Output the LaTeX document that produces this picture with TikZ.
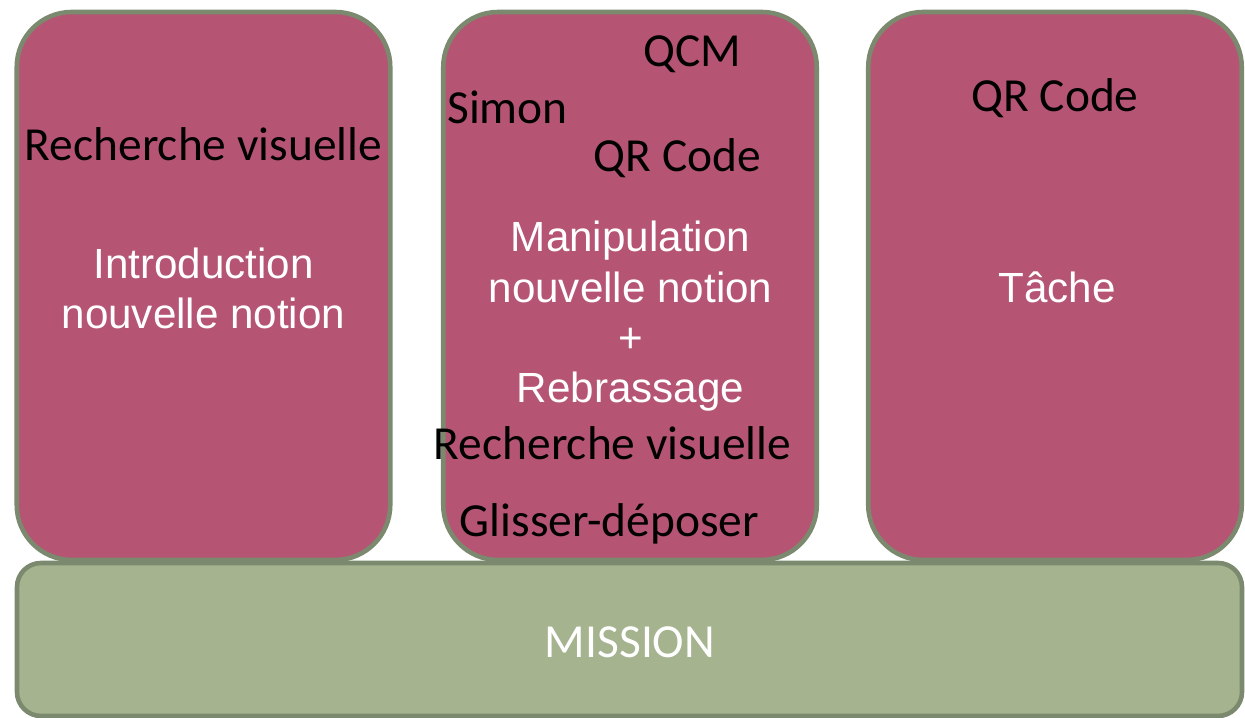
\documentclass[tikz,border=0pt]{standalone}
\usepackage{fontspec}
\setmainfont{Carlito}
\newfontfamily\arialfont{Liberation Sans}
\definecolor{rose}{HTML}{B55573}
\definecolor{sauge}{HTML}{A5B38F}
\definecolor{bord}{HTML}{7B896E}
\begin{document}
\begin{tikzpicture}[bloc/.style={draw=bord,fill=rose,line width=2.6pt,rounded corners=1.1cm,
                      minimum width=7.47cm,minimum height=10.96cm},
                    socle/.style={draw=bord,fill=sauge,line width=2.6pt,rounded corners=.48cm,
                      minimum width=24.5cm,minimum height=3.06cm},
                    noir/.style={anchor=base,inner sep=0pt,font=\fontsize{27}{32}\selectfont},
                    blanc/.style={anchor=base,inner sep=0pt,text=white,align=center,
                      font=\arialfont\fontsize{24}{28.7}\selectfont}]
                  \useasboundingbox (0,0) rectangle (24.9,14.36);
                  \node[socle] (mission) at (12.59,1.57) {};
                  \node[bloc] (intro) at (4.07,8.64) {};
                  \node[bloc] (manip) at (12.6,8.64) {};
                  \node[bloc] (tache) at (21.1,8.64) {};
                  \node[noir] (rv1) at (4.07,11.15) {Recherche visuelle};
                  \node[blanc] (t1) at (4.07,7.79) {Introduction\\nouvelle notion};
                  \node[noir] (qcm) at (13.84,13.02) {QCM};
                  \node[noir] (simon) at (10.15,11.88) {Simon};
                  \node[noir] (qr1) at (13.55,10.92) {QR Code};
                  \node[blanc] (t2) at (12.61,6.3) {Manipulation\\nouvelle notion\\+\\Rebrassage};
                  \node[noir] (rv2) at (12.25,5.16) {Recherche visuelle};
                  \node[noir] (gd) at (12.19,3.62) {Glisser-déposer};
                  \node[noir] (qr2) at (21.1,12.12) {QR Code};
                  \node[blanc] (t3) at (21.14,8.31) {Tâche};
                  \node[noir,text=white] (m) at (12.6,1.2) {MISSION};
              \end{tikzpicture}
\end{document}
